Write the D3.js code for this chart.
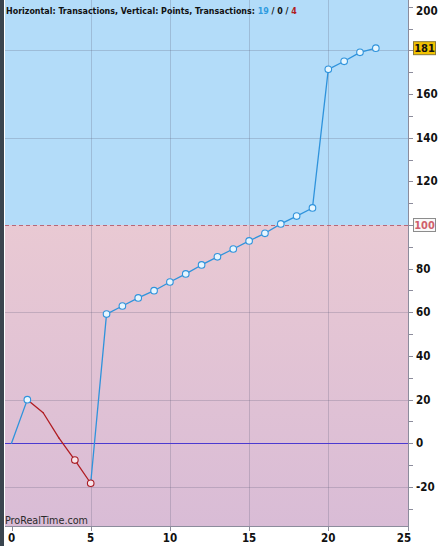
<!DOCTYPE html>
<html><head><meta charset="utf-8">
<script src="https://cdn.jsdelivr.net/npm/d3@7"></script>
<style>body{margin:0;background:#fff;}svg{display:block;font-family:"DejaVu Sans Condensed","DejaVu Sans",sans-serif;}</style>
</head><body>
<svg id="c" width="442" height="546"></svg>
<script>
// data
const transactions = [0,1,2,3,4,5,6,7,8,9,10,11,12,13,14,15,16,17,18,19,20,21,22,23];
const points = [0,20,14,2.4,-7.7,-18.3,59.2,62.9,66.6,69.9,73.9,77.6,81.7,85.4,89.0,92.7,96.2,100.5,104.1,107.8,171.3,175.0,179.1,181];
const markerIdx = [1,4,5,6,7,8,9,10,11,12,13,14,15,16,17,18,19,20,21,22,23];
const xTicks = [0,5,10,15,20,25];
const yTickLabels = [200,160,140,120,80,60,40,20,0,-20];
const yMinorTicks = d3.range(-30,201,10);
const yGrid = [-20,20,60,140,180];
const refLevel = 100;
const lastLabel = "181";
const counts = {win:"19", neutral:"0", loss:"4"};

const svg = d3.select("#c");
const L=5, R=408, T=0, B=526;
const x = d3.scaleLinear().domain([0,25]).range([11.5,407.5]);
const y = d3.scaleLinear().domain([0,100]).range([443.3,225]);

const defs = svg.append("defs");
const g1 = defs.append("linearGradient").attr("id","pink").attr("x1",0).attr("y1",0).attr("x2",0).attr("y2",1);
g1.append("stop").attr("offset","0%").attr("stop-color","#e9c9d3");
g1.append("stop").attr("offset","100%").attr("stop-color","#d9bcd6");

svg.append("rect").attr("x",L).attr("y",T).attr("width",R-L).attr("height",y(refLevel)-T).attr("fill","#b3dcf9");
svg.append("rect").attr("x",L).attr("y",y(refLevel)).attr("width",R-L).attr("height",B-y(refLevel)).attr("fill","url(#pink)");
svg.append("rect").attr("x",0).attr("y",0).attr("width",4).attr("height",546).attr("fill","#3a454f");

// grid
svg.append("g").selectAll("line").data(xTicks.filter(d=>d>0&&d<25)).join("line")
  .attr("x1",d=>Math.round(x(d))+0.5).attr("x2",d=>Math.round(x(d))+0.5).attr("y1",T).attr("y2",B)
  .attr("stroke","rgba(90,90,120,0.25)");
svg.append("g").selectAll("line").data(yGrid).join("line")
  .attr("x1",L).attr("x2",R).attr("y1",d=>Math.round(y(d))+0.5).attr("y2",d=>Math.round(y(d))+0.5)
  .attr("stroke","rgba(90,90,120,0.25)");
// ref dashed
svg.append("line").attr("x1",L).attr("x2",R).attr("y1",Math.round(y(refLevel))+0.5).attr("y2",Math.round(y(refLevel))+0.5)
  .attr("stroke","#b86878").attr("stroke-dasharray","4,3");
// zero line
svg.append("line").attr("x1",L).attr("x2",R).attr("y1",Math.round(y(0))+0.5).attr("y2",Math.round(y(0))+0.5)
  .attr("stroke","#4b3ad0");

// axes frame
svg.append("line").attr("x1",R+0.5).attr("x2",R+0.5).attr("y1",0).attr("y2",B).attr("stroke","#8c8c9c");
svg.append("line").attr("x1",L).attr("x2",R).attr("y1",B+0.5).attr("y2",B+0.5).attr("stroke","#8c8c9c");

// right axis ticks
svg.append("g").selectAll("line").data(yMinorTicks).join("line")
  .attr("x1",R).attr("x2",R+5).attr("y1",d=>Math.round(y(d))+0.5).attr("y2",d=>Math.round(y(d))+0.5)
  .attr("stroke","#8c8c9c");
svg.append("g").selectAll("text").data(yTickLabels).join("text")
  .attr("x",416).attr("y",d=>Math.max(11,y(d))).attr("dy","0.35em")
  .attr("font-size",11.5).attr("font-weight","bold").attr("fill","#111").text(d=>d);
// bottom axis
svg.append("g").selectAll("line").data(xTicks).join("line")
  .attr("x1",d=>Math.round(x(d))+0.5).attr("x2",d=>Math.round(x(d))+0.5).attr("y1",B).attr("y2",B+5)
  .attr("stroke","#8c8c9c");
svg.append("g").selectAll("text").data(xTicks).join("text")
  .attr("x",d=>Math.min(x(d),404)).attr("y",542).attr("text-anchor","middle")
  .attr("font-size",11.5).attr("font-weight","bold").attr("fill","#111").text(d=>d);

// line segments
const data = transactions.map((t,i)=>({t,v:points[i]}));
const segs = svg.append("g");
for(let i=1;i<data.length;i++){
  const a=data[i-1], b=data[i];
  segs.append("line").attr("x1",x(a.t)).attr("y1",y(a.v)).attr("x2",x(b.t)).attr("y2",y(b.v))
    .attr("stroke", b.v<a.v ? "#b01c22" : "#2f93dc").attr("stroke-width",1.3).attr("stroke-linecap","round");
}
svg.append("g").selectAll("circle").data(markerIdx.map(i=>({d:data[i],loss:i>0&&data[i].v<data[i-1].v}))).join("circle")
  .attr("cx",o=>x(o.d.t)).attr("cy",o=>y(o.d.v)).attr("r",3.3)
  .attr("fill",o=>o.loss?"#f7e4ea":"#e6f6ff").attr("stroke",o=>o.loss?"#a81a22":"#2f93dc").attr("stroke-width",1.1);

// value labels
const lab = svg.append("g");
lab.append("rect").attr("x",413.5).attr("y",y(points[points.length-1])-6.5).attr("width",22).attr("height",13)
  .attr("fill","#f2c200").attr("stroke","#8a7a3a");
lab.append("text").attr("x",424.5).attr("y",y(points[points.length-1])).attr("dy","0.35em").attr("text-anchor","middle")
  .attr("font-size",11).attr("font-weight","bold").attr("fill","#111").text(lastLabel);
lab.append("rect").attr("x",413.5).attr("y",y(refLevel)-6.5).attr("width",22).attr("height",13)
  .attr("fill","#f9f9f9").attr("stroke","#8c8c8c");
lab.append("text").attr("x",424.5).attr("y",y(refLevel)).attr("dy","0.35em").attr("text-anchor","middle")
  .attr("font-size",11).attr("font-weight","bold").attr("fill","#d0606c").text(refLevel);

// title
const title = svg.append("text").attr("x",6).attr("y",14).attr("font-size",11).attr("font-weight","bold").attr("fill","#111");
title.append("tspan").text("Horizontal: Transactions, Vertical: Points, Transactions: ");
title.append("tspan").attr("fill","#2e9be0").text(counts.win);
title.append("tspan").text(" / "+counts.neutral+" / ");
title.append("tspan").attr("fill","#b01c22").text(counts.loss);
const tw = title.node().getComputedTextLength();
title.attr("font-size", 11*291/tw);

const wm = svg.append("text").attr("x",5).attr("y",524).attr("font-size",11).attr("fill","#2a2a2a").text("ProRealTime.com");
const ww = wm.node().getComputedTextLength();
wm.attr("font-size",11*83/ww);
</script>
</body></html>
